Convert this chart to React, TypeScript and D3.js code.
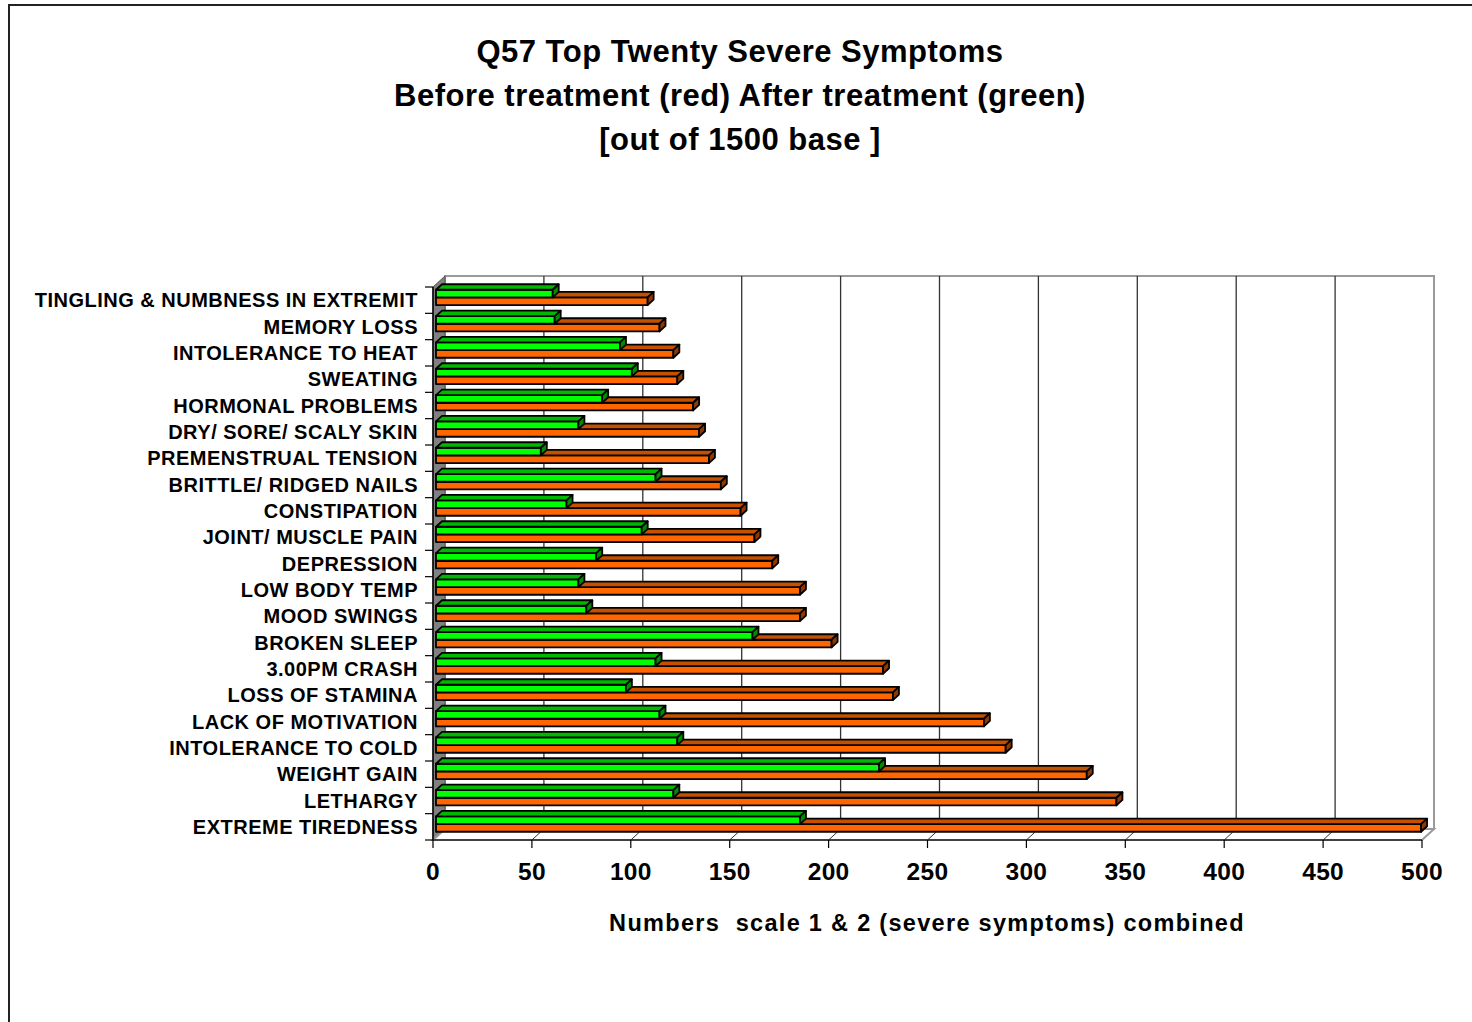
import * as d3 from "d3"

const categories = [
  "TINGLING & NUMBNESS IN EXTREMIT",
  "MEMORY LOSS",
  "INTOLERANCE TO HEAT",
  "SWEATING",
  "HORMONAL PROBLEMS",
  "DRY/ SORE/ SCALY SKIN",
  "PREMENSTRUAL TENSION",
  "BRITTLE/ RIDGED NAILS",
  "CONSTIPATION",
  "JOINT/ MUSCLE PAIN",
  "DEPRESSION",
  "LOW BODY TEMP",
  "MOOD SWINGS",
  "BROKEN SLEEP",
  "3.00PM CRASH",
  "LOSS OF STAMINA",
  "LACK OF MOTIVATION",
  "INTOLERANCE TO COLD",
  "WEIGHT GAIN",
  "LETHARGY",
  "EXTREME TIREDNESS",
]

// before treatment (red/orange)
const before = [107, 113, 120, 122, 130, 133, 138, 144, 154, 161, 170, 184, 184, 200, 226, 231, 277, 288, 329, 344, 498]
// after treatment (green)
const after = [59, 60, 93, 99, 84, 72, 53, 111, 66, 104, 81, 72, 76, 160, 111, 96, 113, 122, 224, 120, 184]

const xTicks = [0, 50, 100, 150, 200, 250, 300, 350, 400, 450, 500]

const titleLines = [
  "Q57 Top Twenty Severe Symptoms",
  "Before treatment (red) After treatment (green)",
  "[out of 1500 base ]",
]
const xTitle = "Numbers  scale 1 & 2 (severe symptoms) combined"

const W = 1472
const H = 1022
const plot = { left: 433, right: 1422, top: 287, bottom: 840 }
const depth = { dx: 12, dy: -11 }
const barDepth = [0.25, 0.75]
const font = "'Liberation Sans', Arial, sans-serif"

const colors = {
  before: { front: "#ff6600", top: "#c45000", side: "#8f3800" },
  after: { front: "#00ff00", top: "#00b800", side: "#008c00" },
}

export default function App() {
  const x = d3.scaleLinear().domain([0, 500]).range([plot.left, plot.right])
  const y = d3.scaleBand().domain(categories).range([plot.top, plot.bottom])
  const s = d3
    .scaleBand()
    .domain(["after", "before"])
    .range([0, y.bandwidth()])
    .paddingInner(0)
    .paddingOuter(0.72)

  const fx = barDepth[0] * depth.dx
  const fy = barDepth[0] * depth.dy
  const bx = barDepth[1] * depth.dx
  const by = barDepth[1] * depth.dy

  // paint from the bottom bar up, so upper bars cover the top faces below
  const bars: { key: string; c: string; v: number; series: "before" | "after" }[] = []
  for (let i = categories.length - 1; i >= 0; i--) {
    bars.push({ key: `${i}-b`, c: categories[i], v: before[i], series: "before" })
    bars.push({ key: `${i}-a`, c: categories[i], v: after[i], series: "after" })
  }

  const boundaries = d3.range(categories.length + 1).map((i) => plot.top + i * y.step())
  const pts = (p: number[][]) => p.map((d) => d.join(",")).join(" ")

  return (
    <svg
      width={W}
      height={H}
      viewBox={`0 0 ${W} ${H}`}
      style={{ position: "absolute", left: 0, top: 0, background: "#fff" }}
      fontFamily={font}
      fontWeight="bold"
    >
      <rect x={0} y={0} width={W} height={H} fill="#fff" />
      <rect x={9} y={5} width={W + 20} height={H + 20} fill="none" stroke="#222" strokeWidth={2} />

      {titleLines.map((t, i) => (
        <text key={t} x={740} y={62 + i * 44} textAnchor="middle" fontSize={31} letterSpacing={0.5}>
          {t}
        </text>
      ))}

      {/* back wall */}
      <rect
        x={x(0) + depth.dx}
        y={plot.top + depth.dy}
        width={x(500) - x(0)}
        height={plot.bottom - plot.top}
        fill="#fff"
        stroke="#9a9a9a"
        strokeWidth={2}
      />
      {xTicks.slice(1, -1).map((t) => (
        <line
          key={`g${t}`}
          x1={x(t) + depth.dx}
          x2={x(t) + depth.dx}
          y1={plot.top + depth.dy}
          y2={plot.bottom + depth.dy}
          stroke="#333"
          strokeWidth={1.3}
        />
      ))}

      {/* side wall */}
      <polygon
        points={pts([
          [plot.left, plot.top],
          [plot.left + depth.dx, plot.top + depth.dy],
          [plot.left + depth.dx, plot.bottom + depth.dy],
          [plot.left, plot.bottom],
        ])}
        fill="#808080"
        stroke="#555"
        strokeWidth={1}
      />

      {/* floor */}
      <polygon
        points={pts([
          [plot.left, plot.bottom],
          [plot.left + depth.dx, plot.bottom + depth.dy],
          [plot.right + depth.dx, plot.bottom + depth.dy],
          [plot.right, plot.bottom],
        ])}
        fill="#fff"
        stroke="#9a9a9a"
        strokeWidth={2}
      />
      {xTicks.slice(1, -1).map((t) => (
        <line
          key={`f${t}`}
          x1={x(t)}
          x2={x(t) + depth.dx * 0.7}
          y1={plot.bottom}
          y2={plot.bottom + depth.dy * 0.7}
          stroke="#333"
          strokeWidth={1}
        />
      ))}

      {/* bars */}
      {bars.map((b) => {
        const col = colors[b.series]
        const xl = x(0)
        const xr = x(b.v)
        const yt = (y(b.c) ?? 0) + (s(b.series) ?? 0)
        const yb = yt + s.bandwidth()
        return (
          <g key={b.key} stroke="#000" strokeWidth={1.8} strokeLinejoin="round">
            <rect x={xl + fx} y={yt + fy} width={xr - xl} height={yb - yt} fill={col.front} />
            <polygon
              points={pts([
                [xl + fx, yt + fy],
                [xr + fx, yt + fy],
                [xr + bx, yt + by],
                [xl + bx, yt + by],
              ])}
              fill={col.top}
            />
            <polygon
              points={pts([
                [xr + fx, yt + fy],
                [xr + bx, yt + by],
                [xr + bx, yb + by],
                [xr + fx, yb + fy],
              ])}
              fill={col.side}
            />
          </g>
        )
      })}

      {/* axes */}
      <line x1={plot.left} x2={plot.left} y1={plot.top} y2={plot.bottom} stroke="#000" strokeWidth={1.5} />
      <line x1={plot.left} x2={plot.right} y1={plot.bottom} y2={plot.bottom} stroke="#222" strokeWidth={1.5} />
      {boundaries.map((b) => (
        <line key={`ct${b}`} x1={plot.left - 8} x2={plot.left} y1={b} y2={b} stroke="#000" strokeWidth={1.2} />
      ))}
      {xTicks.map((t) => (
        <g key={`xt${t}`}>
          <line x1={x(t)} x2={x(t)} y1={plot.bottom} y2={plot.bottom + 8} stroke="#000" strokeWidth={1.2} />
          <text x={x(t)} y={880} textAnchor="middle" fontSize={24.5} letterSpacing={0.3}>
            {t}
          </text>
        </g>
      ))}

      {categories.map((c) => (
        <text
          key={`cl${c}`}
          x={418}
          y={(y(c) ?? 0) + y.bandwidth() / 2}
          dy="0.36em"
          textAnchor="end"
          fontSize={20}
          letterSpacing={0.5}
        >
          {c}
        </text>
      ))}

      <text
        x={927}
        y={931}
        textAnchor="middle"
        fontSize={23.5}
        letterSpacing={1.3}
        style={{ whiteSpace: "pre" }}
      >
        {xTitle}
      </text>
    </svg>
  )
}
